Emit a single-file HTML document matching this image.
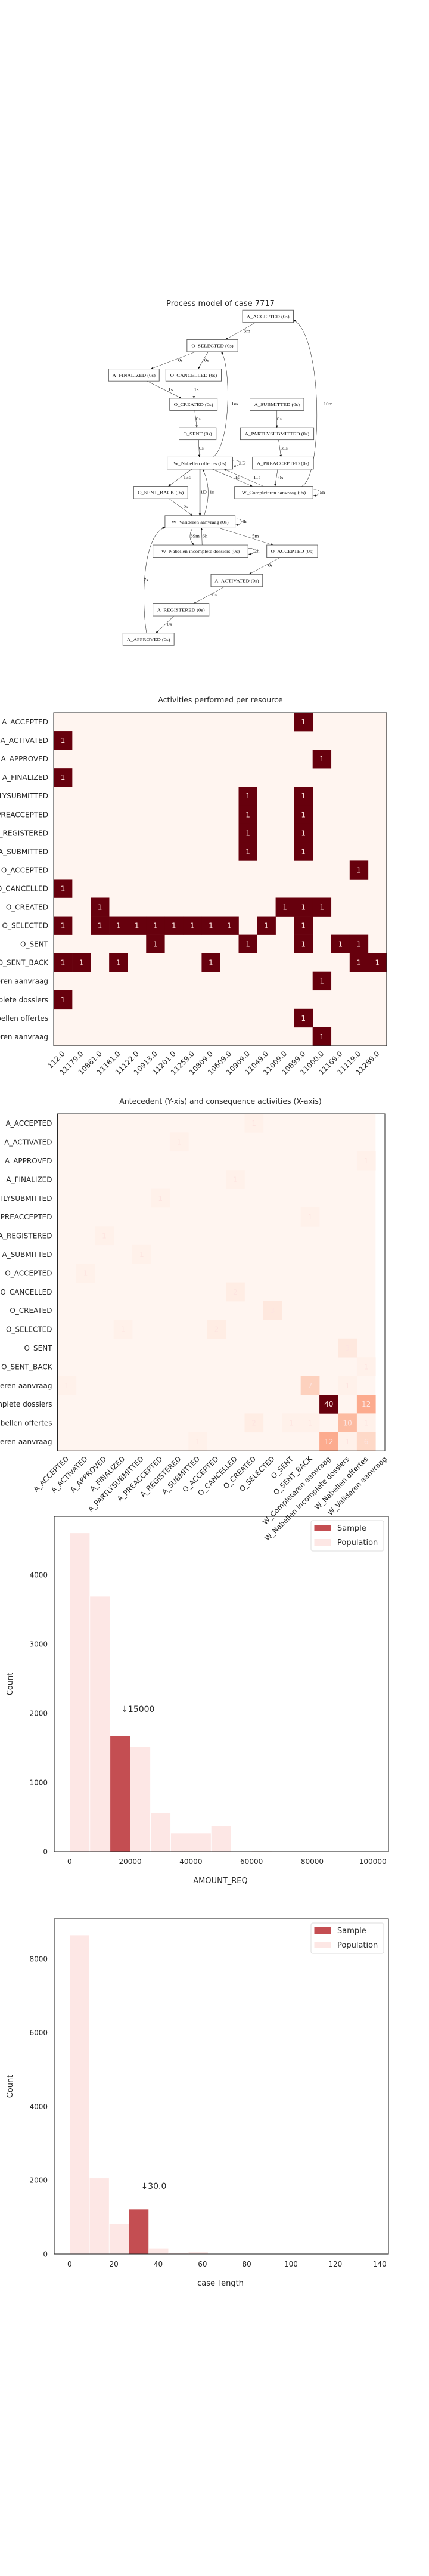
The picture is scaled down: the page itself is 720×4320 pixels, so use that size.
<!DOCTYPE html>
<html><head><meta charset="utf-8">
<style>
html,body{margin:0;padding:0;background:#fff;}
body{width:720px;height:4320px;overflow:hidden;position:relative;}
svg text{font-family:"DejaVu Sans","Liberation Sans",sans-serif;fill:#262626;}
.pm text{font-family:"Liberation Serif","DejaVu Serif",serif;fill:#111;}
</style></head>
<body>
<svg id="root" xmlns="http://www.w3.org/2000/svg" width="720" height="4320" viewBox="0 0 720 4320" style="position:absolute;left:0;top:0">
  <text x="370" y="513" font-size="13" text-anchor="middle">Process model of case 7717</text>
  <svg class="pm" id="pm" x="0" y="480" width="720" height="640" viewBox="0 0 1560 1560" preserveAspectRatio="none">
    <defs><marker id="arr" markerWidth="10" markerHeight="10" refX="9" refY="5" orient="auto" markerUnits="userSpaceOnUse"><path d="M0,1 L10,5 L0,9 z" fill="#111"/></marker></defs>
  </svg>
  <g id="hm1"></g>
  <g id="hm2"></g>
  <g id="h1"></g>
  <g id="h2"></g>
</svg>
<script>
// ---------- data ----------
const activities = ["A_ACCEPTED","A_ACTIVATED","A_APPROVED","A_FINALIZED","A_PARTLYSUBMITTED","A_PREACCEPTED","A_REGISTERED","A_SUBMITTED","O_ACCEPTED","O_CANCELLED","O_CREATED","O_SELECTED","O_SENT","O_SENT_BACK","W_Completeren aanvraag","W_Nabellen incomplete dossiers","W_Nabellen offertes","W_Valideren aanvraag"];
const resources = ["112.0","11179.0","10861.0","11181.0","11122.0","10913.0","11201.0","11259.0","10809.0","10609.0","10909.0","11049.0","11009.0","10899.0","11000.0","11169.0","11119.0","11289.0"];
const resourceCells = [[0,13,1],[1,0,1],[2,14,1],[3,0,1],[4,10,1],[4,13,1],[5,10,1],[5,13,1],[6,10,1],[6,13,1],[7,10,1],[7,13,1],[8,16,1],[9,0,1],
 [10,2,1],[10,12,1],[10,13,1],[10,14,1],
 [11,0,1],[11,2,1],[11,3,1],[11,4,1],[11,5,1],[11,6,1],[11,7,1],[11,8,1],[11,9,1],[11,11,1],[11,13,1],
 [12,5,1],[12,10,1],[12,13,1],[12,15,1],[12,16,1],
 [13,0,1],[13,1,1],[13,3,1],[13,8,1],[13,16,1],[13,17,1],
 [14,14,1],[15,0,1],[16,13,1],[17,14,1]];
const antecedentCells = [[0,10,1],[1,6,1],[2,16,1],[3,9,1],[4,5,1],[5,13,1],[6,2,1],[7,4,1],[8,1,1],[9,9,2],[10,11,3],[11,3,1],[11,8,2],[12,15,3],[13,16,1],
 [14,0,1],[14,13,7],[14,15,1],[15,14,40],[15,16,12],[16,10,2],[16,12,1],[16,13,1],[16,15,10],[16,16,1],[17,7,1],[17,14,12],[17,15,1],[17,16,6]];
const amountBinEdges = [0,6667,13333,20000,26667,33333,40000,46667,53333,60000,66667,73333,80000,86667,93333,100000];
const amountPopulation = [4606,3690,1650,1514,560,268,268,370,0,10,0,0,0,0,0];
const amountSample = [0,0,1673,0,0,0,0,0,0,0,0,0,0,0,0];
const amountXTicks = [0,20000,40000,60000,80000,100000];
const amountYTicks = [0,1000,2000,3000,4000];
const lengthBinEdges = [0,8.93,17.87,26.8,35.73,44.67,53.6,62.53,71.47,80.4,89.33,98.27,107.2,116.13,125.07,134];
const lengthPopulation = [8646,2058,824,0,158,40,53,0,0,0,0,0,0,0,0];
const lengthSample = [0,0,0,1213,0,0,0,0,0,0,0,0,0,0,0];
const lengthXTicks = [0,20,40,60,80,100,120,140];
const lengthYTicks = [0,2000,4000,6000,8000];

const NS="http://www.w3.org/2000/svg";
function mk(tag, attrs, parent, txt){const e=document.createElementNS(NS,tag);for(const k in attrs)e.setAttribute(k,attrs[k]);if(txt!==undefined)e.textContent=txt;parent.appendChild(e);return e;}

// ---------- process model ----------
const pm=document.getElementById('pm');
const nodes=[["A_ACCEPTED (0s)",882,1067,123],["O_SELECTED (0s)",680,865,243],["A_FINALIZED (0s)",395,579,363],["O_CANCELLED (0s)",603,805,363],
["O_CREATED (0s)",617,790,483],["A_SUBMITTED (0s)",909,1105,483],["O_SENT (0s)",651,786,603],["A_PARTLYSUBMITTED (0s)",874,1141,603],
["W_Nabellen offertes (0s)",608,846,723],["A_PREACCEPTED (0s)",918,1140,723],["O_SENT_BACK (0s)",486,683,843],["W_Completeren aanvraag (0s)",853,1138,843],
["W_Valideren aanvraag (0s)",600,855,963],["W_Nabellen incomplete dossiers (0s)",556,902,1083],["O_ACCEPTED (0s)",970,1155,1083],
["A_ACTIVATED (0s)",767,955,1203],["A_REGISTERED (0s)",556,760,1323],["A_APPROVED (0s)",447,633,1443]];
const edges=[["M930,148 L820,218","3m",898,182],["M712,268 L548,338","0s",656,301],["M757,268 L720,338","0s",751,301],
["M535,388 L660,458","1s",620,421],["M705,388 L705,458","1s",714,421],["M708,508 L716,578","0s",721,541],["M722,628 L725,698","0s",732,661],
["M776,698 C840,640 840,330 805,268","1m",853,481],["M1007,508 L1007,578","0s",1016,541],["M1013,628 L1022,698","35s",1033,661],
["M1010,748 L1000,818","0s",1021,781],["M1097,818 C1175,780 1175,200 1067,138","10m",1193,481],
["M846,712 C880,705 880,738 848,735","1D",882,721],["M698,748 L612,818","13s",680,780],["M772,748 L918,818","1s",862,780],
["M958,818 L815,748","11s",934,780],["M1138,832 C1168,825 1168,858 1140,855","5h",1172,841],["M727,748 L727,938","1D",740,840],
["M742,938 C765,860 760,800 737,748","1s",770,840],["M614,868 L700,938","0s",675,900],["M855,952 C885,945 885,978 857,975","4h",887,961],
["M700,988 C685,1020 690,1040 705,1058","39m",709,1020],["M735,1058 L733,988","6h",745,1020],["M902,1072 C932,1065 932,1098 904,1095","2h",934,1081],
["M797,988 L993,1058","5m",929,1020],["M1020,1108 L905,1178","0s",983,1140],["M817,1228 L704,1298","0s",780,1260],["M632,1348 L567,1418","0s",616,1380],
["M533,1418 C515,1300 515,1020 600,985","7s",530,1200]];
edges.forEach((ed,i)=>{
  const p=mk('path',{d:ed[0],fill:'none',stroke:'#222','stroke-width':(i===17?3:1.2),'marker-end':'url(#arr)'},pm);
  
  
  const t=mk('text',{x:ed[2],y:ed[3]+7,'font-size':19,'text-anchor':'middle'},pm,ed[1]);
  
  
});
nodes.forEach(n=>{
  const g=mk('g',{},pm);
  
  
  mk('rect',{x:n[1],y:n[3]-25,width:n[2]-n[1],height:50,fill:'#fff',stroke:'#555','stroke-width':2},g);
  mk('text',{x:(n[1]+n[2])/2,y:n[3]+7,'font-size':19,'text-anchor':'middle'},g,n[0]);
});

// ---------- colormap ----------
const reds=["#fff5f0","#fee0d2","#fcbba1","#fc9272","#fb6a4a","#ef3b2c","#cb181d","#a50f15","#67000d"];
function hx(c){return [1,3,5].map(i=>parseInt(c.substr(i,2),16));}
function redsAt(t){t=Math.max(0,Math.min(1,t));const s=t*8,i=Math.min(7,Math.floor(s)),f=s-i;const a=hx(reds[i]),b=hx(reds[i+1]);return 'rgb('+a.map((v,k)=>Math.round(v+(b[k]-v)*f)).join(',')+')';}

// ---------- heatmap helper ----------
function heatmap(gid,title,titleY,left,top,cell,nCols,axisCols,rows,cols,cells,vmax){
  const g=document.getElementById(gid);
  const t=mk('text',{x:370,y:titleY,'font-size':12.5,'text-anchor':'middle'},g,title);
  
  
  const W=axisCols*cell,H=rows.length*cell;
  mk('rect',{x:left,y:top,width:nCols*cell,height:H,fill:redsAt(0)},g);
  cells.forEach(c=>{
    const r=mk('rect',{x:left+c[1]*cell,y:top+c[0]*cell,width:cell+0.3,height:cell+0.3,fill:redsAt(c[2]/vmax)},g);
    
    
    const tx=mk('text',{x:left+(c[1]+0.5)*cell,y:top+(c[0]+0.5)*cell+4.5,'font-size':12,'text-anchor':'middle',style:'fill:#fde4e0'},g,String(c[2]));
    
    
  });
  mk('rect',{x:left,y:top,width:W,height:H,fill:'none',stroke:'#262626','stroke-width':1},g);
  rows.forEach((r,i)=>{
    const l=mk('text',{x:left-9,y:top+(i+0.5)*cell+4.5,'font-size':12,'text-anchor':'end'},g,r);
    
    
  });
  cols.forEach((c,i)=>{
    const x=left+(i+0.5)*cell, y=top+H+10;
    const l=mk('text',{x:x+4,y:y+4,'font-size':12,'text-anchor':'end',transform:'rotate(-45 '+(x+4)+' '+(y+4)+')'},g,c);
    
    
  });
}
heatmap('hm1','Activities performed per resource',1178,90,1195,31.05,18,18,activities,resources,resourceCells,1);
heatmap('hm2','Antecedent (Y-xis) and consequence activities (X-axis)',1851,96.5,1868,31.4,17,17.5,activities,activities,antecedentCells,40);

// ---------- histogram helper ----------
function hist(gid,edges,pop,samp,xt,yt,xmin,xmax,ymax,top,bottom,xlabel,ann,annX,annY){
  const g=document.getElementById(gid);
  const L=91,R=652;
  const sx=v=>L+(v-xmin)/(xmax-xmin)*(R-L);
  const sy=v=>bottom-v/ymax*(bottom-top);
  pop.forEach((v,i)=>{ if(v<=0)return;
    const r=mk('rect',{x:sx(edges[i]),y:sy(v),width:sx(edges[i+1])-sx(edges[i]),height:bottom-sy(v),fill:'#fde7e5',stroke:'#fff','stroke-width':0.8},g);
    
    
  });
  samp.forEach((v,i)=>{ if(v<=0)return;
    const r=mk('rect',{x:sx(edges[i]),y:sy(v),width:sx(edges[i+1])-sx(edges[i]),height:bottom-sy(v),fill:'#c44e52',stroke:'#fff','stroke-width':0.8},g);
    
    
  });
  mk('rect',{x:L,y:top,width:R-L,height:bottom-top,fill:'none',stroke:'#262626','stroke-width':1.1},g);
  xt.forEach(v=>{const t=mk('text',{x:sx(v),y:bottom+21,'font-size':12,'text-anchor':'middle'},g,String(v));
    
    });
  yt.forEach(v=>{const t=mk('text',{x:80,y:sy(v)+4.5,'font-size':12,'text-anchor':'end'},g,String(v));
    
    });
  const yl=mk('text',{x:0,y:0,'font-size':13,'text-anchor':'middle',transform:'translate(21 '+((top+bottom)/2)+') rotate(-90)'},g,'Count');
  
  
  const xl=mk('text',{x:370,y:bottom+53,'font-size':13,'text-anchor':'middle'},g,xlabel);
  
  
  const a=mk('text',{x:sx(annX),y:sy(annY)+5,'font-size':14},g,ann);
  
  
  const lg=mk('g',{},g);
  
  
  const ly=top+7;
  mk('rect',{x:522,y:ly,width:122,height:51,rx:3,fill:'#fff',stroke:'#ddd'},lg);
  mk('rect',{x:527.5,y:ly+7,width:28,height:11,fill:'#c44e52'},lg);
  mk('text',{x:566,y:ly+17,'font-size':13},lg,'Sample');
  mk('rect',{x:527.5,y:ly+31,width:28,height:11,fill:'#fde7e5'},lg);
  mk('text',{x:566,y:ly+41,'font-size':13},lg,'Population');
}
hist('h1',amountBinEdges,amountPopulation,amountSample,amountXTicks,amountYTicks,-5080,105170,4845,2543,3105,'AMOUNT_REQ','\u219315000',16970,2060);
hist('h2',lengthBinEdges,lengthPopulation,lengthSample,lengthXTicks,lengthYTicks,-6.96,144,9082,3218,3780,'case_length','\u219330.0',32.2,1840);
</script>
</body></html>
